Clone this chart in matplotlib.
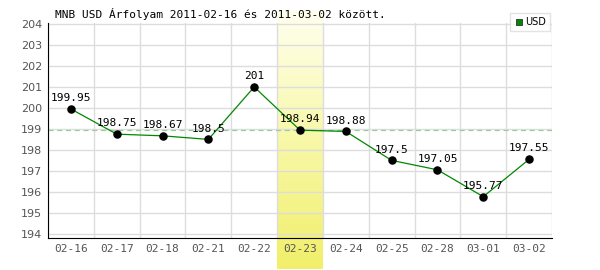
import matplotlib.pyplot as plt
import numpy as np
from matplotlib.colors import LinearSegmentedColormap

dates = ['02-16', '02-17', '02-18', '02-21', '02-22', '02-23',
         '02-24', '02-25', '02-28', '03-01', '03-02']
usd = [199.95, 198.75, 198.67, 198.5, 201, 198.94,
       198.88, 197.5, 197.05, 195.77, 197.55]
labels = ['199.95', '198.75', '198.67', '198.5', '201', '198.94',
          '198.88', '197.5', '197.05', '195.77', '197.55']
highlight = 5
ref_value = 198.94

fig = plt.figure(figsize=(6, 2.7), dpi=100)
ax = fig.add_axes([0.08, 0.1185, 0.84, 0.7965])
x = np.arange(len(dates))

ax.set_xlim(-0.5, len(dates) - 0.5)
ax.set_ylim(193.8, 204.05)

# highlighted day: yellow gradient column reaching below the axis
grad = np.linspace(0, 1, 256).reshape(-1, 1)
cmap = LinearSegmentedColormap.from_list('yl', ['#fffff0', '#f8f8a8', '#f1ef6a'])
ax.imshow(grad, cmap=cmap, aspect='auto',
          extent=(highlight - 0.5, highlight + 0.5, 192.3, 204.6),
          origin='upper', zorder=0, clip_on=False)

for i in range(len(dates) + 1):
    ax.axvline(i - 0.5, color='#dddddd', lw=1, zorder=1)
for v in range(194, 205):
    ax.axhline(v, color='#dddddd', lw=1, zorder=1)

ax.axhline(ref_value, color='#99cc99', lw=0.9, ls=(0, (4, 3)), zorder=2)

ax.plot(x, usd, color='#008800', lw=0.9, zorder=3)
ax.scatter(x, usd, color='black', s=26, zorder=4)
for xi, yi, t in zip(x, usd, labels):
    ax.text(xi, yi + 0.28, t, ha='center', va='bottom', fontsize=8,
            family='DejaVu Sans Mono', color='black', zorder=5)

ax.set_xticks(x)
ax.set_xticklabels(dates, family='DejaVu Sans Mono', fontsize=8, color='#555555')
ax.set_yticks(range(194, 205))
ax.set_yticklabels([str(v) for v in range(194, 205)], fontsize=8, color='#555555')
ax.tick_params(length=0, pad=4)
for s in ['top', 'right']:
    ax.spines[s].set_visible(False)

fig.text(0.092, 0.935, 'MNB USD Árfolyam 2011-02-16 és 2011-03-02 között.',
         family='DejaVu Sans Mono', fontsize=8)

# legend
ax.scatter([], [], marker='s', color='#008800', edgecolor='#333333',
           linewidth=0.6, label='USD')
leg = ax.legend(loc='upper right', bbox_to_anchor=(1.005, 1.07), fontsize=7,
                frameon=True, handletextpad=0.1, borderpad=0.4,
                handlelength=1, fancybox=False, markerscale=0.8)
leg.get_frame().set_edgecolor('#dddddd')
leg.get_frame().set_linewidth(1)

plt.savefig('out.png')
